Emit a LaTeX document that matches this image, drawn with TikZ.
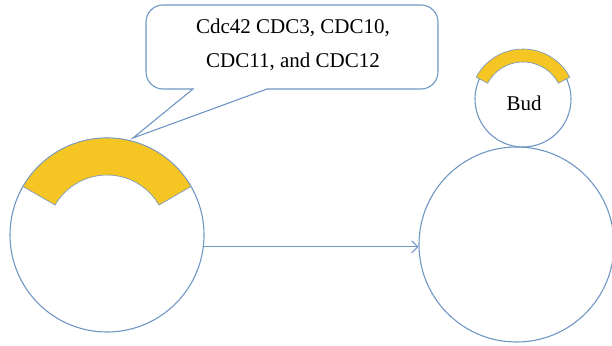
\documentclass[tikz,border=0pt]{standalone}
\usepackage{fontspec}
\setmainfont{Liberation Serif}
\usetikzlibrary{arrows.meta}
\definecolor{lineblue}{RGB}{112,150,196}
\definecolor{budyellow}{RGB}{245,197,35}
\tikzset{
  cell/.style={circle, draw=lineblue, line width=1.1pt, inner sep=0pt},
  band/.style={fill=budyellow, draw=lineblue, line width=0.6pt},
  outline/.style={draw=lineblue, line width=1.1pt, fill=white},
  conn/.style={draw=lineblue, line width=1.1pt, -{Straight Barb[length=6pt,width=12pt,line width=1.1pt]}},
  label/.style={font=\fontsize{21}{34}\selectfont, align=center, inner sep=0pt}
}
\begin{document}
\begin{tikzpicture}[x=1pt,y=1pt]
\useasboundingbox (0,0) rectangle (612,345);
% callout
\coordinate (tip) at (133,207);
\path[outline] (267,256) -- (421,256) arc[start angle=270,end angle=360,radius=17]
  -- (438,323) arc[start angle=0,end angle=90,radius=17]
  -- (163,340) arc[start angle=90,end angle=180,radius=17]
  -- (146,273) arc[start angle=180,end angle=270,radius=17]
  -- (193,256) -- (tip) -- cycle;
\node[label] (note) at (293,300) {Cdc42 CDC3, CDC10,\\CDC11, and CDC12};
% left cell
\node[cell, minimum size=194pt] (lc) at (107,110) {};
\path[band] (107,110) ++(30:97) arc[start angle=30,end angle=150,radius=97]
  -- ++(-30:37) arc[start angle=150,end angle=30,radius=60] -- cycle;
% right cell
\node[cell, minimum size=195pt] (rc) at (516.5,100.5) {};
% bud
\node[cell, minimum size=96pt] (bud) at (523,246) {};
\path[band] (523,243) ++(28:53) arc[start angle=28,end angle=152,radius=53]
  -- ++(-28:13) arc[start angle=152,end angle=28,radius=40] -- cycle;
\node[label] (budtext) at (524,242) {Bud};
% arrow
\draw[conn] (lc.-7.7) -- (lc.-7.7 -| rc.west);
\end{tikzpicture}
\end{document}
